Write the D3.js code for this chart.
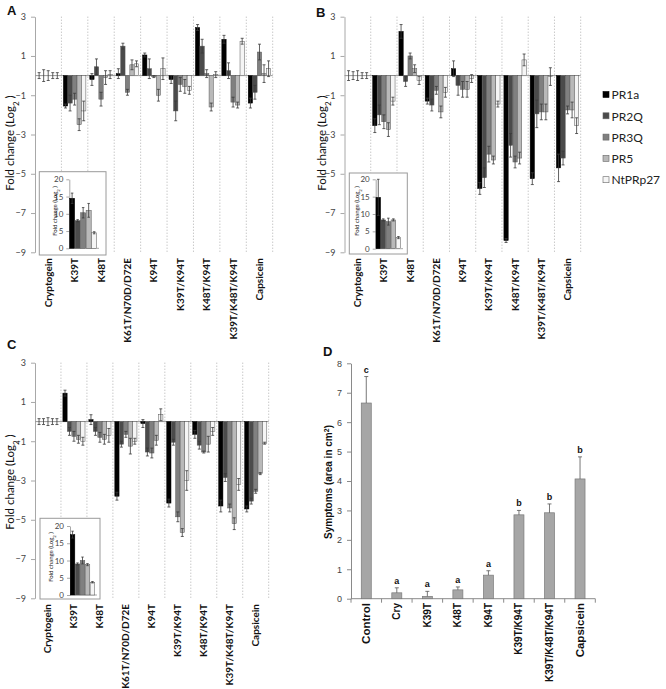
<!DOCTYPE html>
<html>
<head>
<meta charset="utf-8">
<script src="https://cdn.jsdelivr.net/npm/d3@7"></script>
<style>
  body { margin: 0; background: #fff; }
  svg { display: block; }
</style>
</head>
<body>
<script>
// mutants on the x axis of panels A-C, and the five PR genes
var mutants = ["Cryptogein", "K39T", "K48T", "K61T/N70D/D72E", "K94T", "K39T/K94T", "K48T/K94T", "K39T/K48T/K94T", "Capsicein"];
var genes = ["PR1a", "PR2Q", "PR3Q", "PR5", "NtPRp27"];
var geneColors = ["#000000", "#4b4b4b", "#808080", "#b9b9b9", "#f5f5f5"];
var foldTicks = [3, 1, -1, -3, -5, -7, -9];
var insetTicks = [0, 5, 10, 15, 20];

// panel A : one row per mutant, columns PR1a, PR2Q, PR3Q, PR5, NtPRp27
var valuesA = [
  [0, 0, 0, 0, 0],
  [-1.55, -1.4, -1.2, -2.5, -1.8],
  [-0.2, 0.45, -1.2, -0.1, 0.05],
  [0.1, 1.5, -0.85, 0.55, 0.6],
  [1.05, 0.35, -0.05, -1.0, 0.35],
  [-0.2, -1.8, -0.45, -0.55, -0.75],
  [2.45, 1.5, 0.1, -1.6, 0.05],
  [1.85, 0.25, -1.35, -1.5, 1.75],
  [-1.4, -0.85, 1.2, 0.1, 0.35]
];
var errorsA = [
  [0.15, 0.3, 0.25, 0.15, 0.15],
  [0.1, 0.4, 0.3, 0.3, 0.5],
  [0.3, 0.4, 0.35, 0.35, 0.2],
  [0.25, 0.15, 0.15, 0.25, 0.15],
  [0.1, 0.5, 0.05, 0.3, 0.55],
  [0.2, 0.5, 0.35, 0.35, 0.2],
  [0.15, 0.35, 0.2, 0.2, 0.15],
  [0.2, 0.4, 0.25, 0.15, 0.15],
  [0.25, 0.35, 0.4, 0.45, 0.4]
];
var insetA = [14.5, 8, 10.3, 11, 4.5];
var insetErrA = [1.5, 0.3, 1.5, 2, 0.3];

// panel B
var valuesB = [
  [0, 0, 0, 0, 0],
  [-2.55, -2.0, -2.35, -2.75, -1.3],
  [2.25, -0.3, 1.0, 0.35, -0.25],
  [-1.3, -1.5, -0.75, -1.85, -0.85],
  [0.35, -0.5, -0.7, -0.7, -0.15],
  [-5.75, -5.2, -4.0, -4.3, -1.45],
  [-8.4, -3.55, -4.4, -4.2, 0.8],
  [-5.25, -1.95, -1.85, -1.85, -0.05],
  [-4.7, -4.2, -1.75, -1.75, -2.55]
];
var errorsB = [
  [0.25, 0.2, 0.25, 0.15, 0.15],
  [0.35, 0.5, 0.35, 0.35, 0.2],
  [0.35, 0.25, 0.15, 0.2, 0.2],
  [0.15, 0.3, 0.2, 0.3, 0.25],
  [0.4, 0.5, 0.4, 0.4, 0.2],
  [0.3, 0.5, 0.4, 0.2, 0.15],
  [0.1, 0.6, 0.3, 0.3, 0.3],
  [0.3, 0.7, 0.4, 0.4, 0.45],
  [0.7, 0.35, 0.2, 0.4, 0.4]
];
var insetB = [14.8, 8.3, 7.8, 8.3, 3.2];
var insetErrB = [5.2, 0.3, 1, 0.3, 0.3];

// panel C
var valuesC = [
  [0, 0, 0, 0, 0],
  [1.45, -0.5, -0.75, -0.9, -1.0],
  [0.1, -0.5, -0.8, -0.9, -0.7],
  [-3.8, -1.15, -0.65, -1.25, -1.0],
  [-0.1, -1.55, -1.6, -0.95, 0.35],
  [-4.15, -1.05, -4.85, -5.65, -3.0],
  [-0.65, -1.2, -1.55, -1.15, -0.5],
  [-4.3, -2.85, -4.4, -5.2, -3.2],
  [-4.45, -4.05, -3.55, -2.65, -1.1]
];
var errorsC = [
  [0.15, 0.15, 0.2, 0.15, 0.15],
  [0.15, 0.2, 0.25, 0.2, 0.2],
  [0.25, 0.2, 0.25, 0.25, 0.35],
  [0.2, 0.15, 0.15, 0.4, 0.15],
  [0.2, 0.2, 0.25, 0.25, 0.3],
  [0.2, 0.15, 0.25, 0.2, 0.5],
  [0.2, 0.2, 0.05, 0.4, 0.2],
  [0.3, 0.2, 0.2, 0.3, 0.3],
  [0.15, 0.15, 0.1, 0.05, 0.05]
];
var insetC = [17.5, 9, 10, 8.8, 3.7];
var insetErrC = [1, 0.3, 1, 0.3, 0.2];

// panel D : symptoms
var treatments = ["Control", "Cry", "K39T", "K48T", "K94T", "K39T/K94T", "K39T/K48T/K94T", "Capsicein"];
var symptoms = [6.65, 0.2, 0.08, 0.3, 0.8, 2.85, 2.92, 4.07];
var symptomsErr = [0.9, 0.17, 0.17, 0.1, 0.15, 0.15, 0.3, 0.75];
var groups = ["c", "a", "a", "a", "a", "b", "b", "b"];
var symptomTicks = [0, 1, 2, 3, 4, 5, 6, 7, 8];

var W = 666, H = 689;
var svg = d3.select("body").append("svg").attr("width", W).attr("height", H);

var lato = "Lato, 'Open Sans', sans-serif";
var arial = "'Liberation Sans', Arial, sans-serif";

// draws one of the fold change panels with its inset
function foldPanel(p, values, errors, inset, insetErr) {
  var g = svg.append("g");
  var x = d3.scaleBand().domain(mutants).range([p.left, p.right]);
  var xg = d3.scaleBand().domain(genes).range([0, x.bandwidth()]).paddingOuter(0.43).paddingInner(0.05);
  var y = d3.scaleLinear().domain([-9, 3]).range([p.bottom, p.top]);

  // dotted separators
  var seps = mutants.slice(1).map(function(m) { return x(m); }).concat([p.right]);
  g.selectAll(".sep").data(seps).enter().append("line")
    .attr("x1", function(d) { return d; }).attr("x2", function(d) { return d; })
    .attr("y1", y(3)).attr("y2", y(-9))
    .attr("stroke", "#b0b0b0").attr("stroke-width", 1).attr("stroke-dasharray", "1,2");

  // y axis
  var ax = g.append("g").attr("transform", "translate(" + p.left + ",0)")
    .call(d3.axisLeft(y).tickValues(foldTicks).tickSize(4).tickSizeOuter(0).tickPadding(5));
  ax.select(".domain").attr("stroke", "#a8a8a8");
  ax.selectAll(".tick line").attr("stroke", "#a8a8a8");
  ax.selectAll(".tick text").attr("fill", "#444").style("font-family", lato).style("font-size", "9px");

  // zero line
  g.append("line").attr("x1", p.left).attr("x2", p.right).attr("y1", y(0)).attr("y2", y(0))
    .attr("stroke", "#999").attr("stroke-width", 1);

  // bars
  mutants.forEach(function(m, i) {
    var cg = g.append("g").attr("transform", "translate(" + x(m) + ",0)");
    cg.selectAll("rect").data(values[i]).enter().append("rect")
      .attr("x", function(d, j) { return xg(genes[j]); })
      .attr("width", xg.bandwidth())
      .attr("y", function(d) { return Math.min(y(d), y(0)); })
      .attr("height", function(d) { return Math.abs(y(d) - y(0)); })
      .attr("fill", function(d, j) { return geneColors[j]; })
      .attr("stroke", function(d, j) { return j == 0 ? "#000" : "#555"; })
      .attr("stroke-width", 0.5);
    errorBars(cg, values[i], errors[i], function(j) { return xg(genes[j]) + xg.bandwidth() / 2; }, y, 3);
  });

  // category labels
  g.selectAll(".lab").data(mutants).enter().append("text")
    .attr("transform", function(d) { return "translate(" + (x(d) + x.bandwidth() / 2) + "," + p.labelTop + ") rotate(-90)"; })
    .attr("text-anchor", "end").attr("dy", "0.35em")
    .style("font-family", lato).style("font-size", "10px").style("font-weight", "bold")
    .attr("fill", "#111")
    .text(function(d) { return d; });

  // y axis title
  foldTitle(g, p.titleX, p.titleY, 11.5);

  // inset
  var ib = p.inset;
  var ig = g.append("g");
  ig.append("rect").attr("x", ib.x).attr("y", ib.y).attr("width", ib.w).attr("height", ib.h)
    .attr("fill", "#fff").attr("stroke", "#9a9a9a").attr("stroke-width", 1);
  var iy = d3.scaleLinear().domain([0, 20]).range([ib.y0, ib.y20]);
  var ix = d3.scaleBand().domain(genes).range([ib.axis, ib.barsRight]).paddingInner(0.08).paddingOuter(0.05);
  var iax = ig.append("g").attr("transform", "translate(" + ib.axis + ",0)")
    .call(d3.axisLeft(iy).tickValues(insetTicks).tickSize(3).tickSizeOuter(0).tickPadding(3));
  iax.select(".domain").attr("stroke", "#a8a8a8");
  iax.selectAll(".tick line").attr("stroke", "#a8a8a8");
  iax.selectAll(".tick text").attr("fill", "#444").style("font-family", lato).style("font-size", "8px");
  ig.append("line").attr("x1", ib.axis).attr("x2", ib.barsRight + 2).attr("y1", iy(0)).attr("y2", iy(0))
    .attr("stroke", "#a8a8a8");
  ig.selectAll(".ibar").data(inset).enter().append("rect")
    .attr("x", function(d, j) { return ix(genes[j]); })
    .attr("width", ix.bandwidth())
    .attr("y", function(d) { return iy(d); })
    .attr("height", function(d) { return iy(0) - iy(d); })
    .attr("fill", function(d, j) { return geneColors[j]; })
    .attr("stroke", function(d, j) { return j == 0 ? "#000" : "#555"; })
    .attr("stroke-width", 0.5);
  errorBars(ig, inset, insetErr, function(j) { return ix(genes[j]) + ix.bandwidth() / 2; }, iy, 2.5);
  foldTitle(ig, ib.titleX, ib.titleY, 6);
}

// +/- error bars
function errorBars(g, vals, errs, cx, y, cap) {
  vals.forEach(function(v, j) {
    var e = errs[j], xc = cx(j);
    var y1 = y(v - e), y2 = y(v + e);
    g.append("line").attr("x1", xc).attr("x2", xc).attr("y1", y1).attr("y2", y2)
      .attr("stroke", "#3a3a3a").attr("stroke-width", 0.8);
    [y1, y2].forEach(function(yy) {
      g.append("line").attr("x1", xc - cap / 2).attr("x2", xc + cap / 2).attr("y1", yy).attr("y2", yy)
        .attr("stroke", "#3a3a3a").attr("stroke-width", 0.8);
    });
  });
}

function foldTitle(g, tx, ty, size) {
  var t = g.append("text")
    .attr("transform", "translate(" + tx + "," + ty + ") rotate(-90)")
    .attr("text-anchor", "middle").attr("dy", "0.35em")
    .style("font-family", lato).style("font-size", size + "px").attr("fill", "#111");
  t.append("tspan").text("Fold change  (Log");
  t.append("tspan").attr("baseline-shift", "sub").style("font-size", (size * 0.7) + "px").text("2");
  t.append("tspan").text(" )");
}

foldPanel({left: 35, right: 272.7, top: 16.7, bottom: 252.3, labelTop: 258, titleX: 10, titleY: 143,
  inset: {x: 39.3, y: 171.7, w: 66.7, h: 83.3, axis: 69.3, barsRight: 97, y0: 248.3, y20: 179.3, titleX: 54.5, titleY: 211}},
  valuesA, errorsA, insetA, insetErrA);

foldPanel({left: 344.5, right: 580.7, top: 16.7, bottom: 252.3, labelTop: 258, titleX: 322, titleY: 143,
  inset: {x: 349.3, y: 173, w: 58, h: 81, axis: 375.7, barsRight: 401, y0: 248.7, y20: 179.3, titleX: 357, titleY: 211}},
  valuesB, errorsB, insetB, insetErrB);

foldPanel({left: 35, right: 268.7, top: 362.7, bottom: 598.3, labelTop: 604, titleX: 10, titleY: 482,
  inset: {x: 40, y: 518.3, w: 60, h: 80.7, axis: 70, barsRight: 95, y0: 595, y20: 526, titleX: 50.5, titleY: 557}},
  valuesC, errorsC, insetC, insetErrC);

// legend
var legend = svg.append("g");
genes.forEach(function(gname, j) {
  var ly = 95 + j * 21.3;
  legend.append("rect").attr("x", 603).attr("y", ly - 3.5).attr("width", 6).attr("height", 6)
    .attr("fill", geneColors[j]).attr("stroke", j == 0 ? "#000" : "#666").attr("stroke-width", 0.6);
  legend.append("text").attr("x", 611.5).attr("y", ly).attr("dy", "0.35em")
    .style("font-family", lato).style("font-size", "12px").attr("fill", "#222").text(gname);
});

// panel D
(function() {
  var p = {left: 351, right: 595.3, top: 363.3, bottom: 598.7, labelTop: 603};
  var g = svg.append("g");
  var x = d3.scaleBand().domain(treatments).range([p.left, p.right]);
  var y = d3.scaleLinear().domain([0, 8]).range([p.bottom, p.top]);
  var bw = 10;

  var ax = g.append("g").attr("transform", "translate(" + p.left + ",0)")
    .call(d3.axisLeft(y).tickValues(symptomTicks).tickSize(4).tickSizeOuter(0).tickPadding(5));
  ax.select(".domain").attr("stroke", "#8a8a8a");
  ax.selectAll(".tick line").attr("stroke", "#8a8a8a");
  ax.selectAll(".tick text").attr("fill", "#444").style("font-family", arial).style("font-size", "9px");

  g.append("line").attr("x1", p.left).attr("x2", p.right).attr("y1", y(0)).attr("y2", y(0)).attr("stroke", "#8a8a8a");
  var bounds = treatments.map(function(t) { return x(t); }).concat([p.right]);
  g.selectAll(".xt").data(bounds).enter().append("line")
    .attr("x1", function(d) { return d; }).attr("x2", function(d) { return d; })
    .attr("y1", y(0)).attr("y2", y(0) + 4).attr("stroke", "#8a8a8a");

  g.selectAll(".bar").data(symptoms).enter().append("rect")
    .attr("x", function(d, i) { return x(treatments[i]) + x.bandwidth() / 2 - bw / 2; })
    .attr("width", bw)
    .attr("y", function(d) { return y(d); })
    .attr("height", function(d) { return y(0) - y(d); })
    .attr("fill", "#a6a6a6").attr("stroke", "#7a7a7a").attr("stroke-width", 0.7);

  symptoms.forEach(function(v, i) {
    var xc = x(treatments[i]) + x.bandwidth() / 2;
    var top = y(v + symptomsErr[i]);
    g.append("line").attr("x1", xc).attr("x2", xc).attr("y1", y(v)).attr("y2", top).attr("stroke", "#555").attr("stroke-width", 0.8);
    g.append("line").attr("x1", xc - 2).attr("x2", xc + 2).attr("y1", top).attr("y2", top).attr("stroke", "#555").attr("stroke-width", 0.8);
    g.append("text").attr("x", xc).attr("y", top - 4).attr("text-anchor", "middle")
      .style("font-family", arial).style("font-size", "9px").style("font-weight", "bold").attr("fill", "#111")
      .text(groups[i]);
  });

  g.selectAll(".lab").data(treatments).enter().append("text")
    .attr("transform", function(d) { return "translate(" + (x(d) + x.bandwidth() / 2) + "," + p.labelTop + ") rotate(-90)"; })
    .attr("text-anchor", "end").attr("dy", "0.35em")
    .style("font-family", arial).style("font-weight", "bold")
    .style("font-size", function(d) { return (d == "Control" || d == "Capsicein") ? "11.5px" : "10px"; })
    .attr("fill", "#111")
    .text(function(d) { return d; });

  var t = g.append("text").attr("transform", "translate(328,482) rotate(-90)")
    .attr("text-anchor", "middle").attr("dy", "0.35em")
    .style("font-family", arial).style("font-size", "10px").style("font-weight", "bold").attr("fill", "#111");
  t.append("tspan").text("Symptoms (area in cm");
  t.append("tspan").attr("baseline-shift", "super").style("font-size", "7px").text("2");
  t.append("tspan").text(")");
})();

// panel letters
[["A", 7, 15], ["B", 316, 17], ["C", 7, 349], ["D", 323, 356]].forEach(function(l) {
  svg.append("text").attr("x", l[1]).attr("y", l[2])
    .style("font-family", arial).style("font-size", "13px").style("font-weight", "bold").attr("fill", "#111")
    .text(l[0]);
});
</script>
</body>
</html>
